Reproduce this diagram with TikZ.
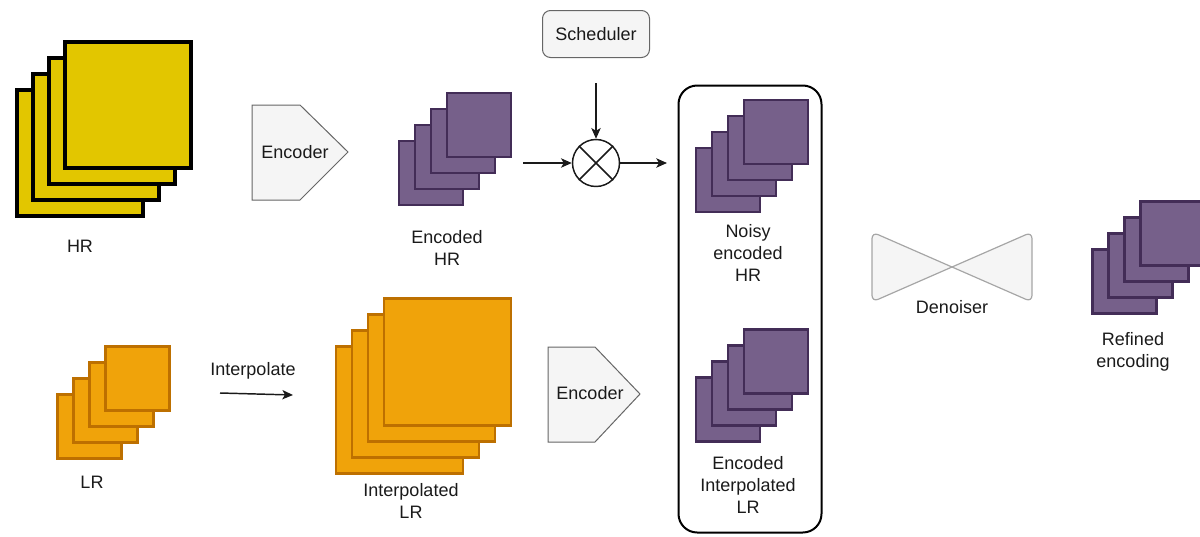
\documentclass[tikz,border=0pt]{standalone}
\usepackage{fontspec}
\setmainfont{Liberation Sans}
\usetikzlibrary{arrows.meta}
\definecolor{hrfill}{HTML}{E2C600}
\definecolor{purfill}{HTML}{76608A}
\definecolor{purline}{HTML}{432D57}
\definecolor{orfill}{HTML}{F0A30A}
\definecolor{orline}{HTML}{BD7000}
\definecolor{boxfill}{HTML}{F5F5F5}
\definecolor{boxline}{HTML}{666666}
\definecolor{txt}{HTML}{1A1A1A}
\newcommand{\layerstack}[5]{%
  \foreach \i in {1,...,4} {%
    \node[#2, minimum size=#5*0.75pt] (#1-\i) at ({#3+16*(\i-1)},{#4-16*(\i-1)}) {};
  }%
}
\tikzset{
  lbl/.style={text=txt, align=center, inner sep=0pt, font=\fontsize{13.5pt}{16.5pt}\selectfont},
  hrsq/.style={rectangle, draw=black, fill=hrfill, line width=3pt, inner sep=0pt, outer sep=0pt},
  pursq/.style={rectangle, draw=purline, fill=purfill, line width=2.2pt, inner sep=0pt, outer sep=0pt},
  orsq/.style={rectangle, draw=orline, fill=orfill, line width=2.2pt, inner sep=0pt, outer sep=0pt},
  encshape/.style={draw=boxline, fill=boxfill, line width=0.75pt, line join=miter},
  conn/.style={draw=txt, line width=1.1pt, -{Stealth[length=8pt,width=7pt,inset=2pt]}},
}
\begin{document}
\begin{tikzpicture}[x=0.75pt,y=-0.75pt]
\useasboundingbox (0,0) rectangle (1200,536);
\clip (0,0) rectangle (1200,536);

% HR stack
\layerstack{hr}{hrsq}{80}{153}{126}
\node[lbl] (hrlbl) at (80,246) {HR};

% Encoder 1
\draw[encshape] (252,105) -- (300,105) -- (348,152) -- (300,200) -- (252,200) -- cycle;
\node[lbl] (enc1) at (295,152) {Encoder};

% Encoded HR
\layerstack{ehr}{pursq}{431}{173}{64}
\node[lbl] (ehrlbl) at (447,248) {Encoded\\HR};

% Scheduler
\node[lbl, draw=boxline, fill=boxfill, line width=0.75pt, rounded corners=6pt,
      minimum width=107*0.75pt, minimum height=47*0.75pt] (sched) at (596,34) {Scheduler};

% Multiplier
\node[circle, draw=txt, line width=1.1pt, fill=white, minimum size=47*0.75pt, inner sep=0pt] (mul) at (596,163) {};
\draw[txt, line width=1.1pt] (mul.north west) -- (mul.south east) (mul.north east) -- (mul.south west);

\coordinate (schedout) at (596,83);
\coordinate (ehrout) at (523,163);
\coordinate (mulend) at (667,163);
\draw[conn] (schedout) -- (mul.north);
\draw[conn] (ehrout) -- (mul.west);
\draw[conn] (mul.east) -- (mulend);

% Conditioning box
\node[draw=black, line width=1.5pt, rounded corners=14pt, minimum width=143*0.75pt,
      minimum height=447*0.75pt, inner sep=0pt] (cond) at (750,309) {};
\layerstack{nhr}{pursq}{728}{180}{64}
\node[lbl] (nhrlbl) at (748,253) {Noisy\\encoded\\HR};
\layerstack{elr}{pursq}{728}{409.5}{64}
\node[lbl] (elrlbl) at (748,485) {Encoded\\Interpolated\\LR};

% Denoiser
\draw[draw=gray!70, fill=boxfill, line width=0.9pt]
  (952,267) [rounded corners=5pt] -- (872,232) -- (872,302) [sharp corners] -- cycle;
\draw[draw=gray!70, fill=boxfill, line width=0.9pt]
  (952,267) [rounded corners=5pt] -- (1032,232) -- (1032,302) [sharp corners] -- cycle;
\node[lbl] (den) at (952,307) {Denoiser};

% Refined encoding
\layerstack{ref}{pursq}{1124.5}{281.5}{64}
\node[lbl] (reflbl) at (1133,352) {Refined\\encoding};

% LR stack
\layerstack{lr}{orsq}{89.5}{426.5}{64}
\node[lbl] (lrlbl) at (92,482) {LR};

% Interpolate
\node[lbl] (interp) at (253,371) {Interpolate};
\coordinate (ia) at (220,393);
\coordinate (ib) at (293,395);
\draw[conn] (ia) -- (ib);

% Interpolated LR
\layerstack{ilr}{orsq}{399.5}{410}{127}
\node[lbl] (ilrlbl) at (411,501) {Interpolated\\LR};

% Encoder 2
\draw[encshape] (548,347) -- (595,347) -- (640,394) -- (595,442) -- (548,442) -- cycle;
\node[lbl] (enc2) at (590,393) {Encoder};
\end{tikzpicture}
\end{document}
